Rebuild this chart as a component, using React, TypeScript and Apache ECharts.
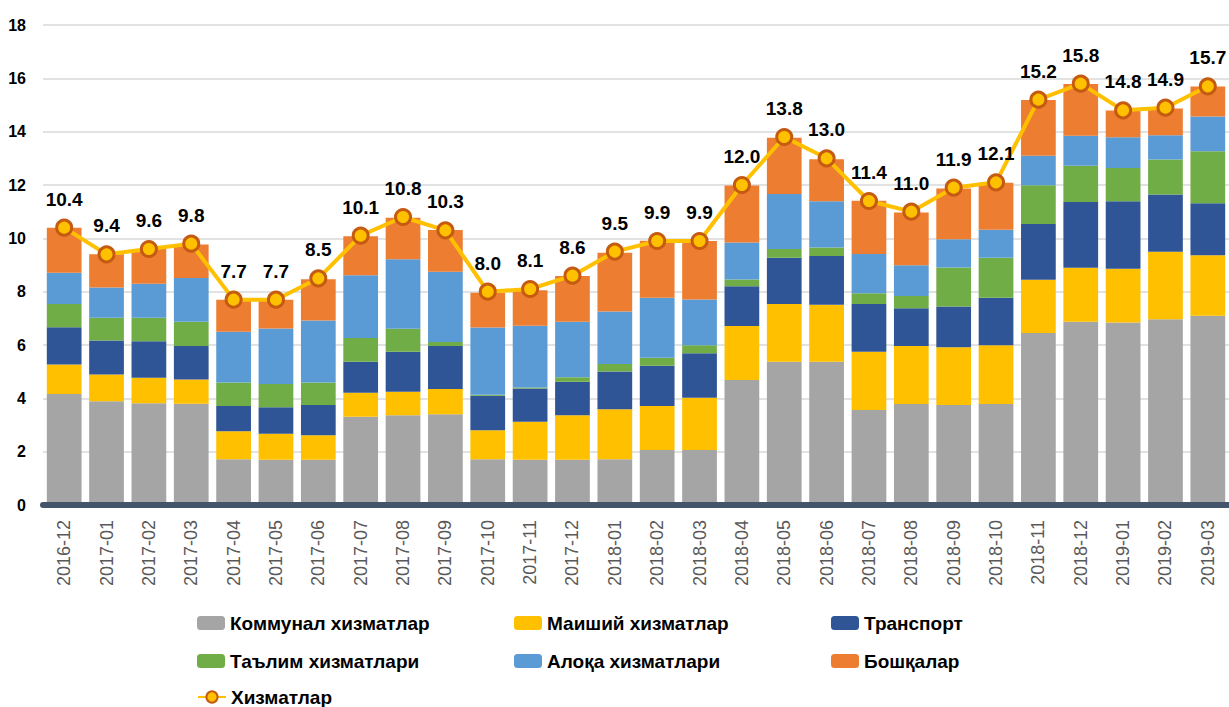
import React, { useEffect, useRef } from "react";
import * as echarts from "echarts";

const categories = [
  "2016-12", "2017-01", "2017-02", "2017-03", "2017-04", "2017-05", "2017-06",
  "2017-07", "2017-08", "2017-09", "2017-10", "2017-11", "2017-12", "2018-01",
  "2018-02", "2018-03", "2018-04", "2018-05", "2018-06", "2018-07", "2018-08",
  "2018-09", "2018-10", "2018-11", "2018-12", "2019-01", "2019-02", "2019-03",
];

const communal = [4.16, 3.89, 3.82, 3.8, 1.72, 1.7, 1.7, 3.31, 3.37, 3.4, 1.72, 1.7, 1.7, 1.72, 2.06, 2.06, 4.69, 5.37, 5.37, 3.56, 3.79, 3.75, 3.79, 6.45, 6.87, 6.84, 6.97, 7.1];
const household = [1.11, 1.0, 0.95, 0.91, 1.05, 0.97, 0.92, 0.9, 0.88, 0.95, 1.08, 1.42, 1.67, 1.87, 1.65, 1.96, 2.02, 2.17, 2.14, 2.19, 2.17, 2.17, 2.2, 2.0, 2.03, 2.02, 2.53, 2.27];
const transport = [1.4, 1.28, 1.37, 1.25, 0.94, 1.0, 1.13, 1.16, 1.5, 1.61, 1.3, 1.25, 1.25, 1.42, 1.51, 1.67, 1.49, 1.73, 1.83, 1.79, 1.42, 1.52, 1.78, 2.09, 2.46, 2.53, 2.14, 1.95];
const education = [0.87, 0.85, 0.88, 0.91, 0.88, 0.87, 0.84, 0.89, 0.86, 0.15, 0.03, 0.04, 0.17, 0.28, 0.3, 0.3, 0.26, 0.33, 0.32, 0.4, 0.46, 1.47, 1.5, 1.45, 1.36, 1.25, 1.32, 1.95];
const communication = [1.17, 1.14, 1.28, 1.64, 1.91, 2.08, 2.33, 2.36, 2.61, 2.64, 2.53, 2.31, 2.08, 1.97, 2.25, 1.72, 1.38, 2.06, 1.73, 1.47, 1.15, 1.06, 1.05, 1.11, 1.13, 1.15, 0.91, 1.3];
const others = [1.69, 1.24, 1.3, 1.26, 1.2, 1.08, 1.55, 1.46, 1.55, 1.56, 1.3, 1.33, 1.72, 2.2, 2.14, 2.19, 2.14, 2.11, 1.58, 2.0, 1.98, 1.9, 1.76, 2.09, 1.94, 1.0, 1.0, 1.12];
const services = [10.4, 9.4, 9.6, 9.8, 7.7, 7.7, 8.5, 10.1, 10.8, 10.3, 8.0, 8.1, 8.6, 9.5, 9.9, 9.9, 12.0, 13.8, 13.0, 11.4, 11.0, 11.9, 12.1, 15.2, 15.8, 14.8, 14.9, 15.7];

const yTicks = [0, 2, 4, 6, 8, 10, 12, 14, 16, 18];

const BOLD_FONT = "'Liberation Sans Narrow', 'Arial Narrow', 'Liberation Sans', Arial, sans-serif";
const SANS = "'Liberation Sans', Arial, sans-serif";

const barSeries = [
  { name: "Коммунал хизматлар", data: communal, color: "#A5A5A5" },
  { name: "Маиший хизматлар", data: household, color: "#FFC000" },
  { name: "Транспорт", data: transport, color: "#2F5597" },
  { name: "Таълим хизматлари", data: education, color: "#70AD47" },
  { name: "Алоқа хизматлари", data: communication, color: "#5B9BD5" },
  { name: "Бошқалар", data: others, color: "#ED7D31" },
];

const legendPos = [
  { name: "Коммунал хизматлар", left: 197, top: 611 },
  { name: "Маиший хизматлар", left: 514, top: 611 },
  { name: "Транспорт", left: 831, top: 611 },
  { name: "Таълим хизматлари", left: 197, top: 649 },
  { name: "Алоқа хизматлари", left: 514, top: 649 },
  { name: "Бошқалар", left: 831, top: 649 },
  { name: "Хизматлар", left: 197, top: 685 },
];

export default function App() {
  const ref = useRef<HTMLDivElement>(null);
  useEffect(() => {
    if (!ref.current) return;
    const chart = echarts.init(ref.current, null, { renderer: "svg" });
    chart.setOption({
      animation: false,
      backgroundColor: "#ffffff",
      grid: { left: 43, right: -3, top: 25, bottom: 202, containLabel: false },
      legend: legendPos.map((l) => ({
        data: [l.name],
        left: l.left,
        top: l.top,
        padding: 0,
        itemWidth: 28,
        itemHeight: 14,
        selectedMode: false,
        textStyle: {
          fontFamily: BOLD_FONT,
          fontWeight: "bold",
          fontSize: 19,
          color: "#000000",
          lineHeight: 24,
        },
      })),
      xAxis: {
        type: "category",
        data: categories,
        z: 5,
        axisLine: { show: true, lineStyle: { color: "#44546A", width: 6 } },
        axisTick: { show: false },
        axisLabel: {
          rotate: 90,
          margin: 15,
          fontFamily: SANS,
          fontSize: 18,
          color: "#595959",
        },
      },
      yAxis: {
        type: "value",
        min: 0,
        max: 18,
        interval: 2,
        axisLine: { show: false },
        axisTick: { show: false },
        splitLine: { lineStyle: { color: "#D9D9D9", width: 1.5 } },
        axisLabel: {
          margin: 17,
          fontFamily: BOLD_FONT,
          fontWeight: "bold",
          fontSize: 16,
          color: "#000000",
          formatter: (v: number) => (yTicks.includes(v) ? String(v) : ""),
        },
      },
      series: [
        ...barSeries.map((s) => ({
          name: s.name,
          type: "bar",
          stack: "total",
          data: s.data,
          barCategoryGap: "18%",
          itemStyle: { color: s.color },
        })),
        {
          name: "Хизматлар",
          type: "line",
          data: services,
          z: 10,
          symbol: "circle",
          symbolSize: 15,
          lineStyle: { color: "#FFC000", width: 4 },
          itemStyle: { color: "#FFC000", borderColor: "#C55A11", borderWidth: 3 },
          label: {
            show: true,
            position: "top",
            distance: 10,
            fontFamily: BOLD_FONT,
            fontWeight: "bold",
            fontSize: 19,
            color: "#000000",
            formatter: (p: any) => Number(p.value).toFixed(1),
          },
        },
      ],
    });
    return () => chart.dispose();
  }, []);
  return (
    <div
      ref={ref}
      style={{ width: 1229, height: 707, position: "absolute", left: 0, top: 0 }}
    />
  );
}
